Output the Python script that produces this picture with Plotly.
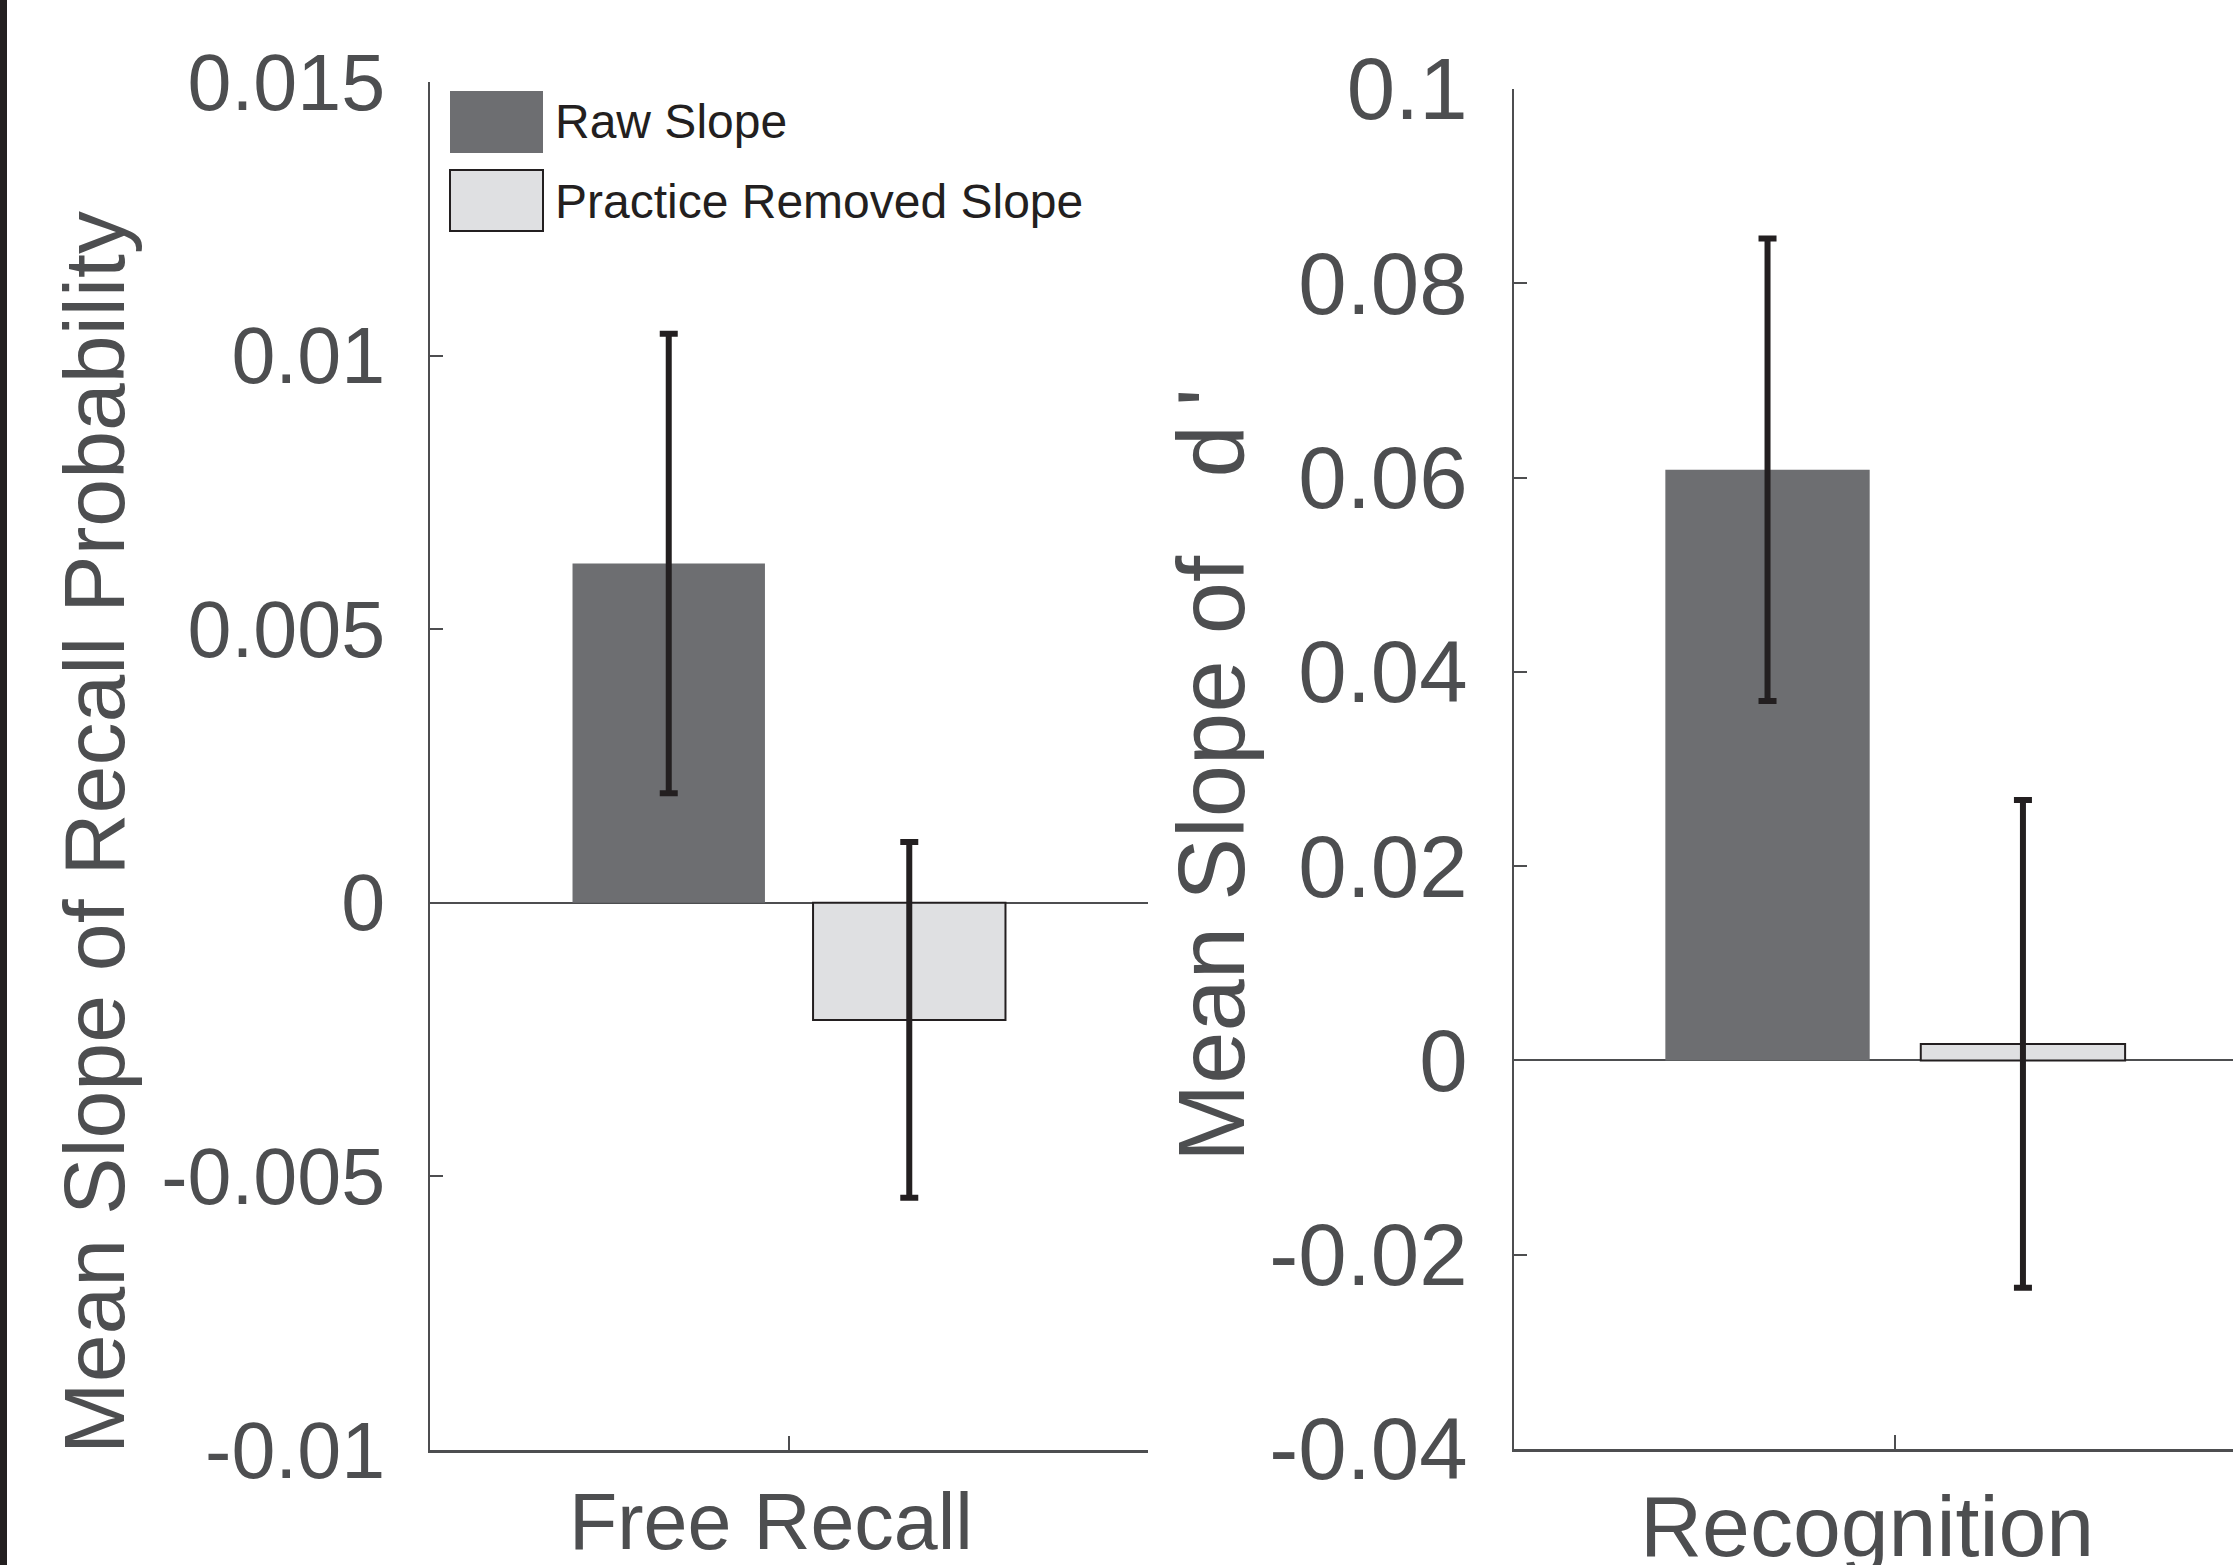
import plotly.graph_objects as go

# ---------------- data ----------------
left_category = ["Free Recall"]
right_category = ["Recognition"]
series_names = ["Raw Slope", "Practice Removed Slope"]

free_recall_raw = [0.0062]
free_recall_raw_err = [0.0042]
free_recall_removed = [-0.00214]
free_recall_removed_err = [0.00325]

recognition_raw = [0.0608]
recognition_raw_err = [0.0238]
recognition_removed = [0.0017]
recognition_removed_err = [0.0251]

left_ticks = [-0.01, -0.005, 0, 0.005, 0.01, 0.015]
left_ticktext = ["-0.01", "-0.005", "0", "0.005", "0.01", "0.015"]
right_ticks = [-0.04, -0.02, 0, 0.02, 0.04, 0.06, 0.08, 0.1]
right_ticktext = ["-0.04", "-0.02", "0", "0.02", "0.04", "0.06", "0.08", "0.1"]

left_ytitle = "Mean Slope of Recall Probability"
right_ytitle = "Mean Slope of\u00a0\u00a0\u00a0d\u2009'"

# ---------------- styles ----------------
W, H = 2233, 1565
DARK = "#6d6e71"
LIGHT = "#dfe0e2"
INK = "#231f20"
TXT = "#4d4e50"
AX = "#4d4e50"
FONT = "Liberation Sans, Arial, Helvetica, sans-serif"

err_style = dict(type="data", color=INK, thickness=6, width=9, visible=True)

fig = go.Figure()

fig.add_trace(go.Bar(x=left_category, y=free_recall_raw, name=series_names[0],
                     marker=dict(color=DARK, line=dict(color=DARK, width=0)),
                     error_y=dict(array=free_recall_raw_err, **err_style),
                     xaxis="x", yaxis="y"))
fig.add_trace(go.Bar(x=left_category, y=free_recall_removed, name=series_names[1],
                     marker=dict(color=LIGHT, line=dict(color=INK, width=2)),
                     error_y=dict(array=free_recall_removed_err, **err_style),
                     xaxis="x", yaxis="y"))
fig.add_trace(go.Bar(x=right_category, y=recognition_raw, name=series_names[0],
                     marker=dict(color=DARK, line=dict(color=DARK, width=0)),
                     error_y=dict(array=recognition_raw_err, **err_style),
                     xaxis="x2", yaxis="y2"))
fig.add_trace(go.Bar(x=right_category, y=recognition_removed, name=series_names[1],
                     marker=dict(color=LIGHT, line=dict(color=INK, width=2)),
                     error_y=dict(array=recognition_removed_err, **err_style),
                     xaxis="x2", yaxis="y2"))

xcommon = dict(showline=True, linecolor=AX, linewidth=2.5, ticks="inside", ticklen=14,
               tickwidth=2, tickcolor=AX, showticklabels=False, showgrid=False,
               zeroline=False, type="category", fixedrange=True, automargin=False)
ycommon = dict(showline=True, linecolor=AX, linewidth=2, ticks="inside", ticklen=13,
               tickwidth=2, tickcolor=AX, showgrid=False, zeroline=True,
               zerolinecolor=AX, zerolinewidth=2, tickmode="array",
               ticklabelstandoff=27, automargin=False, fixedrange=True)

fig.update_layout(
    template="none",
    width=W, height=H, autosize=False,
    margin=dict(l=0, r=0, t=0, b=0, pad=0, autoexpand=False),
    paper_bgcolor="white", plot_bgcolor="white",
    showlegend=False,
    barmode="group", bargap=0.33, bargroupgap=0.2,
    font=dict(family=FONT, color=TXT),
    xaxis=dict(domain=[430 / W, 1148 / W], range=[-0.5, 0.5], anchor="y", **xcommon),
    yaxis=dict(domain=[1 - 1450 / H, 1 - 82 / H], range=[-0.01, 0.015], anchor="x",
               tickvals=left_ticks, ticktext=left_ticktext,
               tickfont=dict(size=79, color=TXT, family=FONT), **ycommon),
    xaxis2=dict(domain=[1514 / W, 1.0], range=[-0.5, 0.443], anchor="y2", **xcommon),
    yaxis2=dict(domain=[1 - 1449 / H, 1 - 89 / H], range=[-0.04, 0.1], anchor="x2",
                tickvals=right_ticks, ticktext=right_ticktext,
                tickfont=dict(size=87, color=TXT, family=FONT), **ycommon),
)

annotations = [
    dict(text=left_ytitle, x=94 / W, y=1 - 833 / H, textangle=-90,
         font=dict(size=86, color=TXT, family=FONT)),
    dict(text=right_ytitle, x=1211 / W, y=1 - 775 / H, textangle=-90,
         font=dict(size=94, color=TXT, family=FONT)),
    dict(text=left_category[0], x=771 / W, y=1 - 1521 / H,
         font=dict(size=79, color=TXT, family=FONT)),
    dict(text=right_category[0], x=1867 / W, y=1 - 1526 / H,
         font=dict(size=86, color=TXT, family=FONT)),
]
for a in annotations:
    a.update(xref="paper", yref="paper", showarrow=False, xanchor="center", yanchor="middle")

# legend (custom, drawn inside the left panel)
legend_entries = [
    dict(name=series_names[0], fill=DARK, edge=DARK, y0=153, y1=91, ty=121),
    dict(name=series_names[1], fill=LIGHT, edge=INK, y0=231, y1=170, ty=201),
]
shapes = []
for e in legend_entries:
    shapes.append(dict(type="rect", xref="paper", yref="paper",
                       x0=450 / W, x1=543 / W, y0=1 - e["y0"] / H, y1=1 - e["y1"] / H,
                       fillcolor=e["fill"], line=dict(color=e["edge"], width=2 if e["edge"] == INK else 0)))
    annotations.append(dict(text=e["name"], xref="paper", yref="paper", x=553 / W, y=1 - e["ty"] / H,
                            xanchor="left", yanchor="middle", showarrow=False,
                            font=dict(size=48, color=INK, family=FONT)))

# black frame edge on the far left
shapes.append(dict(type="rect", xref="paper", yref="paper", x0=0, x1=7 / W, y0=0, y1=1,
                   fillcolor=INK, line=dict(width=0)))

fig.update_layout(annotations=annotations, shapes=shapes)

fig.write_html("out.html", config={"responsive": False, "displayModeBar": False},
               post_script="document.body.style.margin='0';document.body.style.overflow='hidden';")
